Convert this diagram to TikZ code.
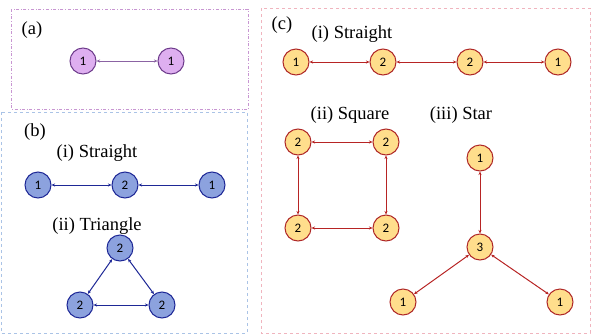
\documentclass[tikz,border=0pt]{standalone}
\usepackage{fontspec}
\setmainfont{Liberation Serif}
\setsansfont{Carlito}
\usepackage{tikz}
\usetikzlibrary{arrows.meta}

\definecolor{purplefill}{RGB}{222,175,240}
\definecolor{purpleline}{RGB}{110,60,140}
\definecolor{bluefill}{RGB}{140,162,222}
\definecolor{blueline}{RGB}{30,40,150}
\definecolor{yellowfill}{RGB}{255,222,140}
\definecolor{redline}{RGB}{175,40,40}
\definecolor{frameblue}{RGB}{170,195,230}
\definecolor{framepurple}{RGB}{200,150,210}
\definecolor{framepink}{RGB}{240,180,190}

\begin{document}
\begin{tikzpicture}[
    x=1pt, y=-1pt,
    agent/.style={circle, draw, line width=1pt, minimum size=26pt,
                  inner sep=0pt, font=\sffamily\fontsize{13}{13}\selectfont},
    purplenode/.style={agent, fill=purplefill, draw=purpleline},
    bluenode/.style={agent, fill=bluefill, draw=blueline},
    yellownode/.style={agent, fill=yellowfill, draw=redline},
    link/.style={line width=1pt,
                 {Stealth[length=3.5pt,width=3pt]}-{Stealth[length=3.5pt,width=3pt]}},
    purplelink/.style={link, purpleline!80},
    bluelink/.style={link, blueline},
    redlink/.style={link, redline!90!red},
    lbl/.style={font=\fontsize{18.5}{18.5}\selectfont, inner sep=0pt},
]
\useasboundingbox (0,0) rectangle (592,335);

% frames
\draw[framepurple, dash dot, line width=0.6pt] (11,9) rectangle (248,109);
\draw[frameblue, dashed, line width=0.6pt] (1,112) rectangle (247,333);
\draw[framepink, dashed, line width=0.6pt] (261,8) rectangle (590,333);

% (a)
\node[lbl] (la) at (32,30) {(a)};
\node[purplenode] (a1) at (83,61) {1};
\node[purplenode] (a2) at (171,61) {1};
\draw[purplelink] (a1) -- (a2);

% (b) straight
\node[lbl] (lb) at (35,132) {(b)};
\node[lbl] (lbi) at (97,153) {(i) Straight};
\node[bluenode] (b1) at (38,185) {1};
\node[bluenode] (b2) at (125,185) {2};
\node[bluenode] (b3) at (212,185) {1};
\draw[bluelink] (b1) -- (b2);
\draw[bluelink] (b2) -- (b3);

% (b) triangle
\node[lbl] (lbii) at (97,226) {(ii) Triangle};
\node[bluenode] (t1) at (120,248) {2};
\node[bluenode] (t2) at (80,305) {2};
\node[bluenode] (t3) at (162,305) {2};
\draw[bluelink] (t1) -- (t2);
\draw[bluelink] (t2) -- (t3);
\draw[bluelink] (t3) -- (t1);

% (c) straight
\node[lbl] (lc) at (282,25) {(c)};
\node[lbl] (lci) at (352,34) {(i) Straight};
\node[yellownode] (c1) at (296,62) {1};
\node[yellownode] (c2) at (383,62) {2};
\node[yellownode] (c3) at (470,62) {2};
\node[yellownode] (c4) at (558,62) {1};
\draw[redlink] (c1) -- (c2);
\draw[redlink] (c2) -- (c3);
\draw[redlink] (c3) -- (c4);

% (c) square
\node[lbl] (lcii) at (350,115) {(ii) Square};
\node[yellownode] (s1) at (298,142) {2};
\node[yellownode] (s2) at (386,142) {2};
\node[yellownode] (s3) at (298,228) {2};
\node[yellownode] (s4) at (386,228) {2};
\draw[redlink] (s1) -- (s2);
\draw[redlink] (s1) -- (s3);
\draw[redlink] (s2) -- (s4);
\draw[redlink] (s3) -- (s4);

% (c) star
\node[lbl] (lciii) at (461,115) {(iii) Star};
\node[yellownode] (st0) at (480,247) {3};
\node[yellownode] (st1) at (480,158) {1};
\node[yellownode] (st2) at (403,302) {1};
\node[yellownode] (st3) at (560,302) {1};
\draw[redlink] (st0) -- (st1);
\draw[redlink] (st0) -- (st2);
\draw[redlink] (st0) -- (st3);

\end{tikzpicture}
\end{document}
